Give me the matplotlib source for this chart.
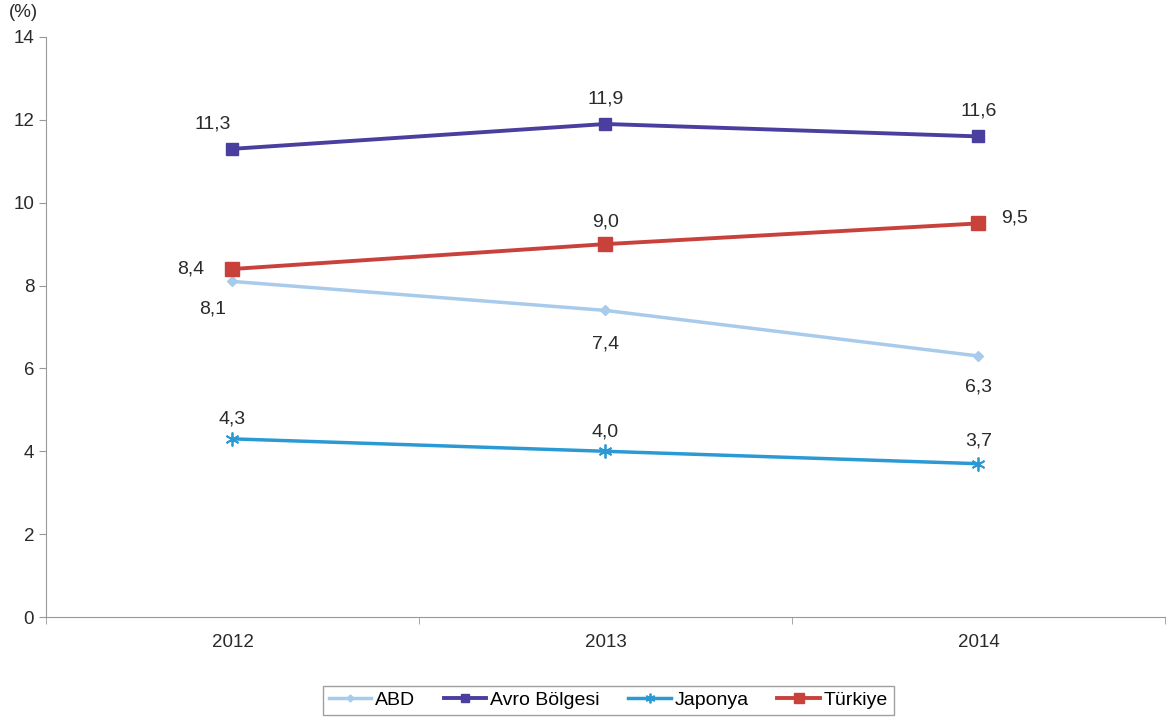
import numpy as np
import matplotlib
matplotlib.use('Agg')
import matplotlib.pyplot as plt

plt.rcParams['font.family'] = ['Liberation Sans', 'DejaVu Sans']

years = ['2012', '2013', '2014']
abd = [8.1, 7.4, 6.3]
avro = [11.3, 11.9, 11.6]
japonya = [4.3, 4.0, 3.7]
turkiye = [8.4, 9.0, 9.5]

fig = plt.figure(figsize=(11.7, 7.22), dpi=100)
ax = fig.add_axes([0.0393, 0.1454, 0.9564, 0.8034])

x = np.arange(len(years))
ax.plot(x, abd, color='#a9cbeb', lw=2.5, marker='D', ms=5, label='ABD')
ax.plot(x, avro, color='#4a3f9f', lw=2.8, marker='s', ms=9, label='Avro Bölgesi')
ax.plot(x, japonya, color='#2b9ad4', lw=2.5, marker=(6, 2, 0), ms=10, mew=1.3, label='Japonya')
ax.plot(x, turkiye, color='#c9413b', lw=2.8, marker='s', ms=10, label='Türkiye')

def lab(v):
    return ('%.1f' % v).replace('.', ',')

# label offsets (points)
offs = {
    'abd': [(-14, -20), (0, -24), (0, -22)],
    'avro': [(-14, 18), (0, 18), (0, 18)],
    'jap': [(0, 14), (0, 14), (0, 16)],
    'tur': [(-30, 0), (0, 16), (26, 4)],
}
for key, ser in [('abd', abd), ('avro', avro), ('jap', japonya), ('tur', turkiye)]:
    for i, v in enumerate(ser):
        ax.annotate(lab(v), (x[i], v), xytext=offs[key][i], textcoords='offset points',
                    ha='center', va='center', fontsize=14, color='#2a2a2a')

ax.set_xlim(-0.5, 2.5)
ax.set_ylim(0, 14)
ax.set_yticks(range(0, 15, 2))
ax.set_xticks(x)
ax.set_xticklabels(years)
ax.set_xticks([-0.5, 0.5, 1.5, 2.5], minor=True)
ax.tick_params(axis='x', which='major', length=0, pad=12, labelsize=13.5, labelcolor='#2a2a2a')
ax.tick_params(axis='x', which='minor', length=5, color='#999999')
ax.tick_params(axis='y', length=5, color='#999999', labelsize=13.5, labelcolor='#2a2a2a')
for s in ['top', 'right']:
    ax.spines[s].set_visible(False)
for s in ['left', 'bottom']:
    ax.spines[s].set_color('#999999')
ax.text(-0.033, 1.035, '(%)', transform=ax.transAxes, fontsize=13.5, color='#2a2a2a', ha='left')

leg = fig.legend(loc='center', bbox_to_anchor=(0.52, 0.03), ncol=4, frameon=True,
                 fontsize=14, fancybox=False, handlelength=2.2, columnspacing=1.45,
                 handletextpad=0.2, borderpad=0.3, markerscale=0.7)
leg.get_frame().set_edgecolor('#888888')

fig.savefig('out.png', dpi=100)
